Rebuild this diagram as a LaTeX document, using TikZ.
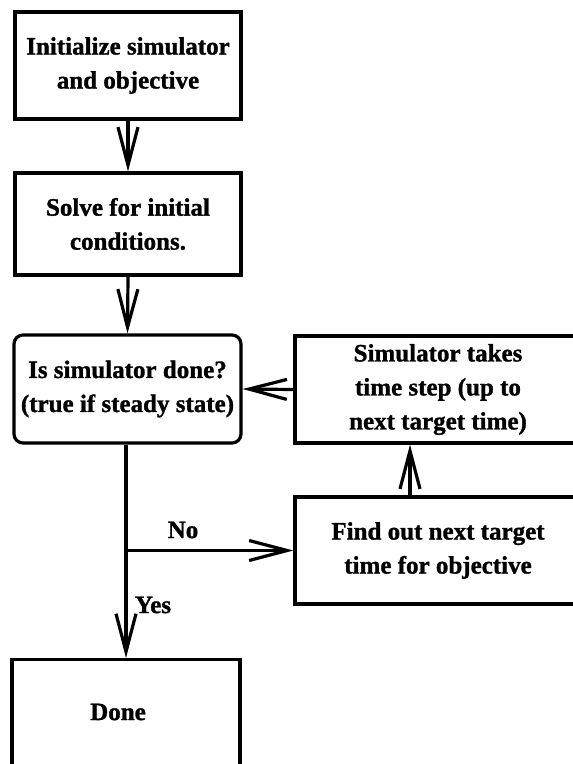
\documentclass[tikz,border=0pt]{standalone}
\usepackage{fontspec}
\setmainfont{Liberation Serif}[BoldFeatures={FakeBold=1.2}]
\usetikzlibrary{arrows.meta,calc}
\begin{document}
\begin{tikzpicture}[x=1pt,y=-1pt,
  txt/.style={font=\bfseries\fontsize{25}{34}\selectfont, inner sep=0pt},
  box/.style={txt, draw, line width=3.2pt, align=center},
  arr/.style={line width=3.2pt, -{Straight Barb[length=38pt,width=20pt,line width=3.2pt]}}]
\clip (0,0) rectangle (573,764);

% main column
\node[box, minimum width=226pt, minimum height=107pt] (init) at (128,65.5)
  {Initialize simulator\\and objective};
\node[box, minimum width=226pt, minimum height=102pt] (solve) at (128,224)
  {Solve for initial\\conditions.};
\node[box, rounded corners=9pt, minimum width=227pt, minimum height=108pt] (check) at (127.5,389)
  {Is simulator done?\\(true if steady state)};
\node[box, minimum width=228pt, minimum height=140pt, anchor=north] (done) at (126,658) {};
\node[txt] (donetext) at (118,712) {Done};

% loop on the right
\node[box, minimum width=286pt, minimum height=107pt] (step) at (438,389.5)
  {Simulator takes\\time step (up to\\next target time)};
\node[box, minimum width=286pt, minimum height=107pt] (target) at (438,550.5)
  {Find out next target\\time for objective};

% connectors
\draw[arr] (init.south) -- (solve.north);
\draw[arr] (solve.south) -- (check.north);
\draw[arr] (check.south -| done.north) -- (done.north);
\coordinate (branch) at (126,550.5);
\draw[arr] (branch) -- (target.west);
\coordinate (up) at (410,497);
\draw[arr] (up) -- (up |- step.south);
\draw[arr] (step.west) -- (check.east);

% branch labels
\node[txt] (no) at (183,530) {No};
\node[txt] (yes) at (153,605) {Yes};
\end{tikzpicture}
\end{document}
